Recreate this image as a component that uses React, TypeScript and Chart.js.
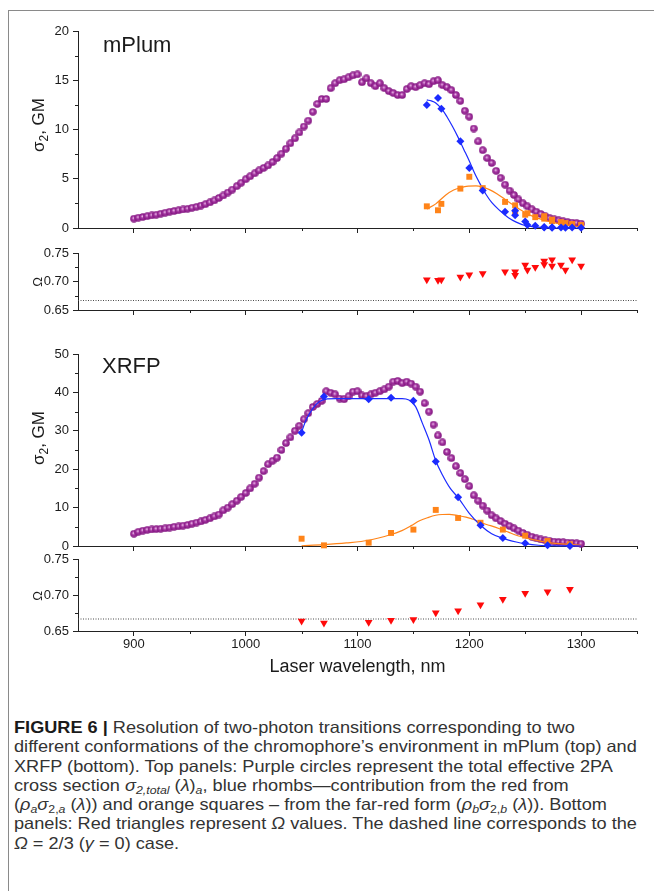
import { useEffect, useRef } from "react";
import { Chart, registerables } from "chart.js";

Chart.register(...registerables);

// ---- wavelength axis -------------------------------------------------------
const X_MIN = 850;
const X_MAX = 1350;
const X_MAJOR = [900, 1000, 1100, 1200, 1300];
const X_MINOR = [950, 1050, 1150, 1250, 1350];

// ---- cross-section / Omega axes ---------------------------------------------
const MPLUM_SIGMA_MAJOR = [0, 5, 10, 15, 20];
const MPLUM_SIGMA_MINOR = [2.5, 7.5, 12.5, 17.5];
const XRFP_SIGMA_MAJOR = [0, 10, 20, 30, 40, 50];
const XRFP_SIGMA_MINOR = [5, 15, 25, 35, 45];
const OMEGA_MAJOR = [0.65, 0.7, 0.75];
const OMEGA_MINOR = [0.675, 0.725];
const OMEGA_ISOTROPIC = 2 / 3;

// ---- total effective 2PA scan (purple circles), nm ----------------------------
const SCAN_NM = [
  900, 904, 908, 912, 916, 920, 924, 928, 932, 936,
  940, 944, 948, 952, 956, 960, 964, 968, 972, 976,
  980, 984, 988, 992, 996, 1000, 1004, 1008, 1012, 1016,
  1020, 1024, 1028, 1032, 1036, 1040, 1044, 1048, 1052, 1056,
  1060, 1064, 1068, 1072, 1076, 1080, 1084, 1088, 1092, 1096,
  1100, 1104, 1108, 1112, 1116, 1120, 1124, 1128, 1132, 1136,
  1140, 1144, 1148, 1152, 1156, 1160, 1164, 1168, 1172, 1176,
  1180, 1184, 1188, 1192, 1196, 1200, 1204, 1208, 1212, 1216,
  1220, 1224, 1228, 1232, 1236, 1240, 1244, 1248, 1252, 1256,
  1260, 1264, 1268, 1272, 1276, 1280, 1284, 1288, 1292, 1296,
  1300,
];

const MPLUM_TOTAL = [
  0.95, 1.05, 1.12, 1.2, 1.28, 1.35, 1.45, 1.55, 1.65, 1.72,
  1.8, 1.88, 1.95, 2.05, 2.15, 2.28, 2.42, 2.6, 2.8, 3.05,
  3.3, 3.6, 3.9, 4.25, 4.6, 4.95, 5.25, 5.55, 5.85, 6.1,
  6.35, 6.7, 7.1, 7.55, 8.05, 8.6, 9.1, 9.7, 10.3, 10.9,
  11.8, 12.6, 13.1, 13.1, 14.2, 14.7, 15.0, 15.1, 15.3, 15.5,
  15.6, 14.8, 15.2, 14.7, 14.4, 14.7, 14.2, 13.9, 13.7, 13.5,
  13.5, 14.1, 14.4, 14.3, 14.5, 14.7, 14.6, 14.9, 15.0, 14.5,
  14.3, 14.0, 13.5, 12.9, 11.9, 11.3, 10.1, 8.8, 7.9, 7.1,
  6.6, 5.8, 5.1, 4.4, 3.8, 3.35, 2.9, 2.5, 2.2, 1.9,
  1.65, 1.42, 1.2, 1.0, 0.88, 0.78, 0.68, 0.6, 0.55, 0.5,
  0.45,
];

const XRFP_TOTAL = [
  3.2, 3.7, 4.0, 4.2, 4.3, 4.4, 4.5, 4.6, 4.8, 5.0,
  5.1, 5.3, 5.5, 5.8, 6.1, 6.4, 6.8, 7.2, 7.7, 8.2,
  9.3, 10.0, 10.9, 11.8, 12.8, 13.8, 15.0, 16.2, 17.8, 19.5,
  21.3, 22.2, 23.0, 25.0, 26.8, 28.3, 30.0, 31.3, 33.0, 34.6,
  36.2, 37.0, 37.8, 40.3, 39.9, 39.5, 38.4, 38.2, 39.0, 40.2,
  40.3, 39.2, 39.0, 39.5, 39.9, 40.3, 40.8, 41.5, 42.8, 43.0,
  42.4, 42.8, 42.3, 41.5, 40.2, 37.2, 35.0, 31.6, 28.8, 27.0,
  24.5, 22.9, 20.8, 19.0, 17.4, 15.6, 13.2, 11.8, 10.5, 9.2,
  8.0, 7.2, 6.5, 5.8, 5.2, 4.6, 4.0, 3.4, 2.9, 2.4,
  2.0, 1.7, 1.45, 1.3, 1.15, 1.05, 0.98, 0.9, 0.8, 0.7,
  0.6,
];

// ---- mPlum: resolved red / far-red contributions and Omega -------------------
const MPLUM_COMP_NM = [
  1162, 1172, 1175, 1192, 1200, 1212, 1232, 1241, 1241, 1250,
  1252, 1259, 1267, 1267, 1274, 1274, 1282, 1286, 1292, 1300,
];
const MPLUM_RED = [
  12.5, 13.2, 12.1, 8.8, 6.1, 3.8, 1.65, 1.75, 1.3, 0.65,
  0.3, 0.22, 0.1, 0.05, 0.08, 0.02, 0.05, 0.03, 0.05, 0.02,
];
const MPLUM_FARRED = [
  2.2, 1.8, 2.45, 4.0, 5.2, 4.05, 2.65, 2.3, 1.6, 1.35,
  1.5, 1.1, 1.2, 0.95, 0.85, 0.7, 0.6, 0.5, 0.4, 0.3,
];
const MPLUM_OMEGA = [
  0.703, 0.702, 0.703, 0.708, 0.712, 0.714, 0.717, 0.717, 0.711, 0.729,
  0.72, 0.725, 0.736, 0.73, 0.738, 0.727, 0.729, 0.72, 0.738, 0.727,
];

const MPLUM_RED_FIT_NM = [
  1162, 1166, 1170, 1176, 1180, 1185, 1190, 1195, 1200, 1205, 1210,
  1215, 1220, 1227, 1235, 1242, 1250, 1260, 1270, 1285, 1300,
];
const MPLUM_RED_FIT = [
  13.0, 12.9, 12.7, 12.0, 11.3, 10.3, 9.2, 8.0, 6.8, 5.5, 4.4,
  3.4, 2.6, 1.8, 1.05, 0.6, 0.25, 0.08, 0.02, 0.0, 0.0,
];
const MPLUM_FARRED_FIT_NM = [
  1162, 1170, 1179, 1186, 1192, 1199, 1206, 1212, 1218, 1225, 1232,
  1239, 1245, 1251, 1257, 1264, 1271, 1278, 1286, 1293, 1300,
];
const MPLUM_FARRED_FIT = [
  1.93, 2.45, 3.35, 3.85, 4.08, 4.25, 4.28, 4.15, 3.9, 3.45, 2.9,
  2.35, 1.9, 1.5, 1.18, 0.9, 0.67, 0.5, 0.34, 0.2, 0.12,
];

// ---- XRFP: resolved red / far-red contributions and Omega --------------------
const XRFP_COMP_NM = [1050, 1070, 1110, 1130, 1150, 1170, 1190, 1210, 1230, 1250, 1270, 1290];
const XRFP_RED = [29.5, 38.9, 38.2, 38.6, 37.8, 22.0, 12.7, 5.4, 2.1, 0.7, 0.18, 0.02];
const XRFP_FARRED = [1.9, 0.17, 0.87, 3.4, 4.27, 9.4, 7.3, 6.05, 4.27, 2.7, 1.3, 0.44];
const XRFP_OMEGA = [0.664, 0.661, 0.662, 0.665, 0.666, 0.6755, 0.678, 0.6866, 0.694, 0.7023, 0.7046, 0.7079];

const XRFP_RED_FIT_NM = [
  1050, 1054, 1060, 1066, 1073, 1081, 1095, 1110, 1125, 1140, 1146, 1152, 1158,
  1164, 1170, 1176, 1183, 1190, 1200, 1210, 1220, 1230, 1242, 1250, 1262, 1280, 1300,
];
const XRFP_RED_FIT = [
  29.7, 32.8, 35.8, 37.6, 38.3, 38.4, 38.4, 38.4, 38.4, 38.4, 38.0, 36.3, 32.0,
  27.6, 22.2, 18.5, 15.0, 12.6, 8.5, 5.4, 3.2, 2.0, 1.05, 0.6, 0.2, 0.05, 0.0,
];
const XRFP_FARRED_FIT_NM = [
  1050, 1070, 1090, 1110, 1130, 1138, 1148, 1155, 1163, 1170, 1176, 1182, 1190, 1197,
  1204, 1210, 1219, 1227, 1235, 1242, 1250, 1257, 1264, 1271, 1280, 1290, 1300,
];
const XRFP_FARRED_FIT = [
  0.05, 0.35, 0.8, 1.5, 3.0, 3.8, 5.3, 6.5, 7.4, 8.0, 8.2, 8.25, 7.9, 7.5,
  6.9, 6.1, 5.3, 4.5, 3.6, 2.8, 2.2, 1.66, 1.25, 0.88, 0.6, 0.4, 0.2,
];

// ---- styling -----------------------------------------------------------------
const FONT = "'Liberation Sans', Arial, Helvetica, sans-serif";
const INK = "#1b1b1b";
const AXIS = "#222222";
const BLUE = "#1c2bff";
const ORANGE = "#ff8419";
const RED = "#ff0a0a";

Chart.defaults.font.family = FONT;
Chart.defaults.color = INK;

const pairs = (xs: number[], ys: number[]) => xs.map((x, i) => ({ x, y: ys[i] }));

// Shaded purple bead used for the total cross-section markers
function makeBead(): HTMLCanvasElement {
  const c = document.createElement("canvas");
  c.width = 8;
  c.height = 8;
  const g = c.getContext("2d")!;
  const grad = g.createRadialGradient(3.4, 3.2, 0.3, 4, 4, 4);
  grad.addColorStop(0, "#e9b9e6");
  grad.addColorStop(0.35, "#a83aa5");
  grad.addColorStop(1, "#7c0f7a");
  g.fillStyle = grad;
  g.beginPath();
  g.arc(4, 4, 3.8, 0, Math.PI * 2);
  g.fill();
  return c;
}

// Short outward minor ticks on both axes
const minorTicks = {
  id: "minorTicks",
  afterDraw(chart: any, _args: any, opts: any) {
    const { ctx, chartArea } = chart;
    const xs = chart.scales.x;
    const ys = chart.scales.y;
    ctx.save();
    ctx.strokeStyle = AXIS;
    ctx.lineWidth = 1;
    ctx.beginPath();
    for (const v of opts.x || []) {
      const p = Math.round(xs.getPixelForValue(v)) + 0.5;
      ctx.moveTo(p, chartArea.bottom);
      ctx.lineTo(p, chartArea.bottom + 3);
    }
    for (const v of opts.y || []) {
      const p = Math.round(ys.getPixelForValue(v)) + 0.5;
      ctx.moveTo(chartArea.left - 3, p);
      ctx.lineTo(chartArea.left, p);
    }
    ctx.stroke();
    ctx.restore();
  },
};

type Run = { text: string; size: number; dy?: number };
type Label = { x: number; y: number; runs: Run[]; rotate?: boolean; center?: boolean };

// Panel names and rotated axis captions (with subscripts)
const panelLabels = {
  id: "panelLabels",
  afterDraw(chart: any, _args: any, opts: any) {
    const ctx = chart.ctx as CanvasRenderingContext2D;
    for (const lab of (opts.items || []) as Label[]) {
      ctx.save();
      ctx.translate(lab.x, lab.y);
      if (lab.rotate) ctx.rotate(-Math.PI / 2);
      ctx.fillStyle = INK;
      ctx.textBaseline = "alphabetic";
      ctx.textAlign = "left";
      let total = 0;
      for (const r of lab.runs) {
        ctx.font = `${r.size}px ${FONT}`;
        total += ctx.measureText(r.text).width;
      }
      let cx = lab.center ? -total / 2 : 0;
      for (const r of lab.runs) {
        ctx.font = `${r.size}px ${FONT}`;
        ctx.fillText(r.text, cx, r.dy || 0);
        cx += ctx.measureText(r.text).width;
      }
      ctx.restore();
    }
  },
};

type Panel = {
  top: number;
  areaTop: number;
  plotH: number;
  axisH: number;
  yMin: number;
  yMax: number;
  yMajor: number[];
  yMinor: number[];
  yDigits: number;
  showX: boolean;
  labels: Label[];
  datasets: (bead: HTMLCanvasElement) => any[];
};

const sigmaTitle = (y: number): Label => ({
  x: 44,
  y,
  rotate: true,
  center: true,
  runs: [
    { text: "σ", size: 17 },
    { text: "2", size: 12, dy: 4 },
    { text: ", GM", size: 17 },
  ],
});
const omegaTitle = (y: number): Label => ({
  x: 42,
  y,
  rotate: true,
  center: true,
  runs: [{ text: "Ω", size: 13 }],
});

const pointSet = (data: { x: number; y: number }[], style: string, color: string, radius: number, extra: any = {}) => ({
  data,
  showLine: false,
  pointStyle: style,
  pointRadius: radius,
  pointBackgroundColor: color,
  pointBorderWidth: 0,
  clip: false,
  order: 1,
  ...extra,
});
const fitLine = (data: { x: number; y: number }[], color: string) => ({
  data,
  showLine: true,
  pointRadius: 0,
  borderColor: color,
  borderWidth: 1.2,
  cubicInterpolationMode: "monotone",
  clip: false,
  order: 3,
});
const totalSet = (data: { x: number; y: number }[], bead: HTMLCanvasElement) => ({
  data,
  showLine: false,
  pointStyle: bead,
  pointRadius: 4,
  clip: false,
  order: 5,
});
const isoLine = () => ({
  data: [
    { x: X_MIN, y: OMEGA_ISOTROPIC },
    { x: X_MAX, y: OMEGA_ISOTROPIC },
  ],
  showLine: true,
  pointRadius: 0,
  borderColor: "#4a4a4a",
  borderWidth: 1,
  borderDash: [1, 1.5],
  order: 6,
});

const PANELS: Panel[] = [
  {
    top: 0,
    areaTop: 31,
    plotH: 197,
    axisH: 10,
    yMin: 0,
    yMax: 20,
    yMajor: MPLUM_SIGMA_MAJOR,
    yMinor: MPLUM_SIGMA_MINOR,
    yDigits: 0,
    showX: false,
    labels: [{ x: 103, y: 52, runs: [{ text: "mPlum", size: 22 }] }, sigmaTitle(125)],
    datasets: (bead) => [
      totalSet(pairs(SCAN_NM, MPLUM_TOTAL), bead),
      fitLine(pairs(MPLUM_RED_FIT_NM, MPLUM_RED_FIT), BLUE),
      fitLine(pairs(MPLUM_FARRED_FIT_NM, MPLUM_FARRED_FIT), ORANGE),
      pointSet(pairs(MPLUM_COMP_NM, MPLUM_RED), "rectRot", BLUE, 4),
      pointSet(pairs(MPLUM_COMP_NM, MPLUM_FARRED), "rect", ORANGE, 4.2),
    ],
  },
  {
    top: 238,
    areaTop: 15,
    plotH: 57,
    axisH: 10,
    yMin: 0.65,
    yMax: 0.75,
    yMajor: OMEGA_MAJOR,
    yMinor: OMEGA_MINOR,
    yDigits: 2,
    showX: false,
    labels: [omegaTitle(44)],
    datasets: () => [
      isoLine(),
      pointSet(pairs(MPLUM_COMP_NM, MPLUM_OMEGA), "triangle", RED, 4.5, { pointRotation: 180 }),
    ],
  },
  {
    top: 320,
    areaTop: 34,
    plotH: 192,
    axisH: 8,
    yMin: 0,
    yMax: 50,
    yMajor: XRFP_SIGMA_MAJOR,
    yMinor: XRFP_SIGMA_MINOR,
    yDigits: 0,
    showX: false,
    labels: [{ x: 102, y: 53, runs: [{ text: "XRFP", size: 22 }] }, sigmaTitle(118)],
    datasets: (bead) => [
      totalSet(pairs(SCAN_NM, XRFP_TOTAL), bead),
      fitLine(pairs(XRFP_RED_FIT_NM, XRFP_RED_FIT), BLUE),
      fitLine(pairs(XRFP_FARRED_FIT_NM, XRFP_FARRED_FIT), ORANGE),
      pointSet(pairs(XRFP_COMP_NM, XRFP_RED), "rectRot", BLUE, 4),
      pointSet(pairs(XRFP_COMP_NM, XRFP_FARRED), "rect", ORANGE, 4.2),
    ],
  },
  {
    top: 545,
    areaTop: 14,
    plotH: 72,
    axisH: 49,
    yMin: 0.65,
    yMax: 0.75,
    yMajor: OMEGA_MAJOR,
    yMinor: OMEGA_MINOR,
    yDigits: 2,
    showX: true,
    labels: [omegaTitle(51)],
    datasets: () => [
      isoLine(),
      pointSet(pairs(XRFP_COMP_NM, XRFP_OMEGA), "triangle", RED, 4.5, { pointRotation: 180 }),
    ],
  },
];

const CANVAS_W = 654;
const Y_AXIS_W = 78;
const RIGHT_PAD = 17;

function buildConfig(p: Panel, bead: HTMLCanvasElement): any {
  return {
    type: "scatter",
    data: { datasets: p.datasets(bead) },
    plugins: [minorTicks, panelLabels],
    options: {
      animation: false,
      responsive: false,
      devicePixelRatio: 1,
      events: [],
      layout: { padding: { left: 0, right: RIGHT_PAD, top: p.areaTop, bottom: 0 } },
      plugins: {
        legend: { display: false },
        tooltip: { enabled: false },
        minorTicks: { x: X_MINOR, y: p.yMinor },
        panelLabels: { items: p.labels },
      },
      scales: {
        x: {
          type: "linear",
          min: X_MIN,
          max: X_MAX,
          afterBuildTicks: (s: any) => {
            s.ticks = X_MAJOR.map((value) => ({ value }));
          },
          afterFit: (s: any) => {
            s.height = p.axisH;
            s.paddingLeft = 0;
            s.paddingRight = 0;
          },
          grid: { drawOnChartArea: false, drawTicks: true, tickLength: 5, tickColor: AXIS, tickWidth: 1 },
          border: { display: true, color: AXIS, width: 1 },
          ticks: {
            display: p.showX,
            autoSkip: false,
            maxRotation: 0,
            padding: 1,
            color: INK,
            font: { size: 13 },
            callback: (v: number) => String(v),
          },
          title: {
            display: p.showX,
            text: "Laser wavelength, nm",
            color: INK,
            font: { size: 18 },
            padding: { top: 0, bottom: 2 },
          },
        },
        y: {
          type: "linear",
          min: p.yMin,
          max: p.yMax,
          afterBuildTicks: (s: any) => {
            s.ticks = p.yMajor.map((value) => ({ value }));
          },
          afterFit: (s: any) => {
            s.width = Y_AXIS_W;
            s.paddingTop = 0;
            s.paddingBottom = 0;
          },
          grid: { drawOnChartArea: false, drawTicks: true, tickLength: 5, tickColor: AXIS, tickWidth: 1 },
          border: { display: true, color: AXIS, width: 1 },
          ticks: {
            padding: 4,
            color: INK,
            font: { size: 13 },
            callback: (v: number) => v.toFixed(p.yDigits),
          },
        },
      },
    },
  };
}

const sub = { fontSize: "0.68em", verticalAlign: "-0.28em", lineHeight: 0 } as const;
const captionLine = { width: "max-content", transform: "scaleX(1.1)", transformOrigin: "0 50%" } as const;

export default function App() {
  const canvases = useRef<(HTMLCanvasElement | null)[]>([]);

  useEffect(() => {
    const bead = makeBead();
    const charts = PANELS.map((p, i) => new Chart(canvases.current[i]!, buildConfig(p, bead)));
    return () => charts.forEach((c) => c.destroy());
  }, []);

  return (
    <div
      style={{
        position: "absolute",
        left: 0,
        top: 0,
        width: CANVAS_W,
        height: 891,
        background: "#ffffff",
        overflow: "hidden",
      }}
    >
      <div
        style={{
          position: "absolute",
          left: 8,
          top: 10,
          right: 0,
          bottom: 0,
          borderLeft: "1px solid #8a8a8a",
          borderTop: "1px solid #8a8a8a",
        }}
      />
      {PANELS.map((p, i) => (
        <canvas
          key={i}
          ref={(el) => {
            canvases.current[i] = el;
          }}
          width={CANVAS_W}
          height={p.areaTop + p.plotH + p.axisH}
          style={{
            position: "absolute",
            left: 0,
            top: p.top,
            width: CANVAS_W,
            height: p.areaTop + p.plotH + p.axisH,
          }}
        />
      ))}
      <div
        style={{
          position: "absolute",
          left: 14,
          top: 718,
          fontFamily: FONT,
          fontSize: 16.5,
          lineHeight: "19.3px",
          color: "#333333",
          whiteSpace: "nowrap",
        }}
      >
        <div style={captionLine}>
          <b style={{ color: "#1a1a1a" }}>FIGURE 6 |</b> Resolution of two-photon transitions corresponding to two
        </div>
        <div style={captionLine}>different conformations of the chromophore’s environment in mPlum (top) and</div>
        <div style={captionLine}>XRFP (bottom). Top panels: Purple circles represent the total effective 2PA</div>
        <div style={captionLine}>
          cross section <i>σ</i>
          <sub style={sub}>
            <i>2,total</i>
          </sub>{" "}
          (<i>λ</i>)<sub style={sub}>
            <i>a</i>
          </sub>
          , blue rhombs—contribution from the red from
        </div>
        <div style={captionLine}>
          (<i>ρ</i>
          <sub style={sub}>
            <i>a</i>
          </sub>
          <i>σ</i>
          <sub style={sub}>
            2,<i>a</i>
          </sub>{" "}
          (<i>λ</i>)) and orange squares – from the far-red form (<i>ρ</i>
          <sub style={sub}>
            <i>b</i>
          </sub>
          <i>σ</i>
          <sub style={sub}>
            2,<i>b</i>
          </sub>{" "}
          (<i>λ</i>)). Bottom
        </div>
        <div style={captionLine}>
          panels: Red triangles represent <i>Ω</i> values. The dashed line corresponds to the
        </div>
        <div style={captionLine}>
          <i>Ω</i> = 2/3 (<i>γ</i> = 0) case.
        </div>
      </div>
    </div>
  );
}
